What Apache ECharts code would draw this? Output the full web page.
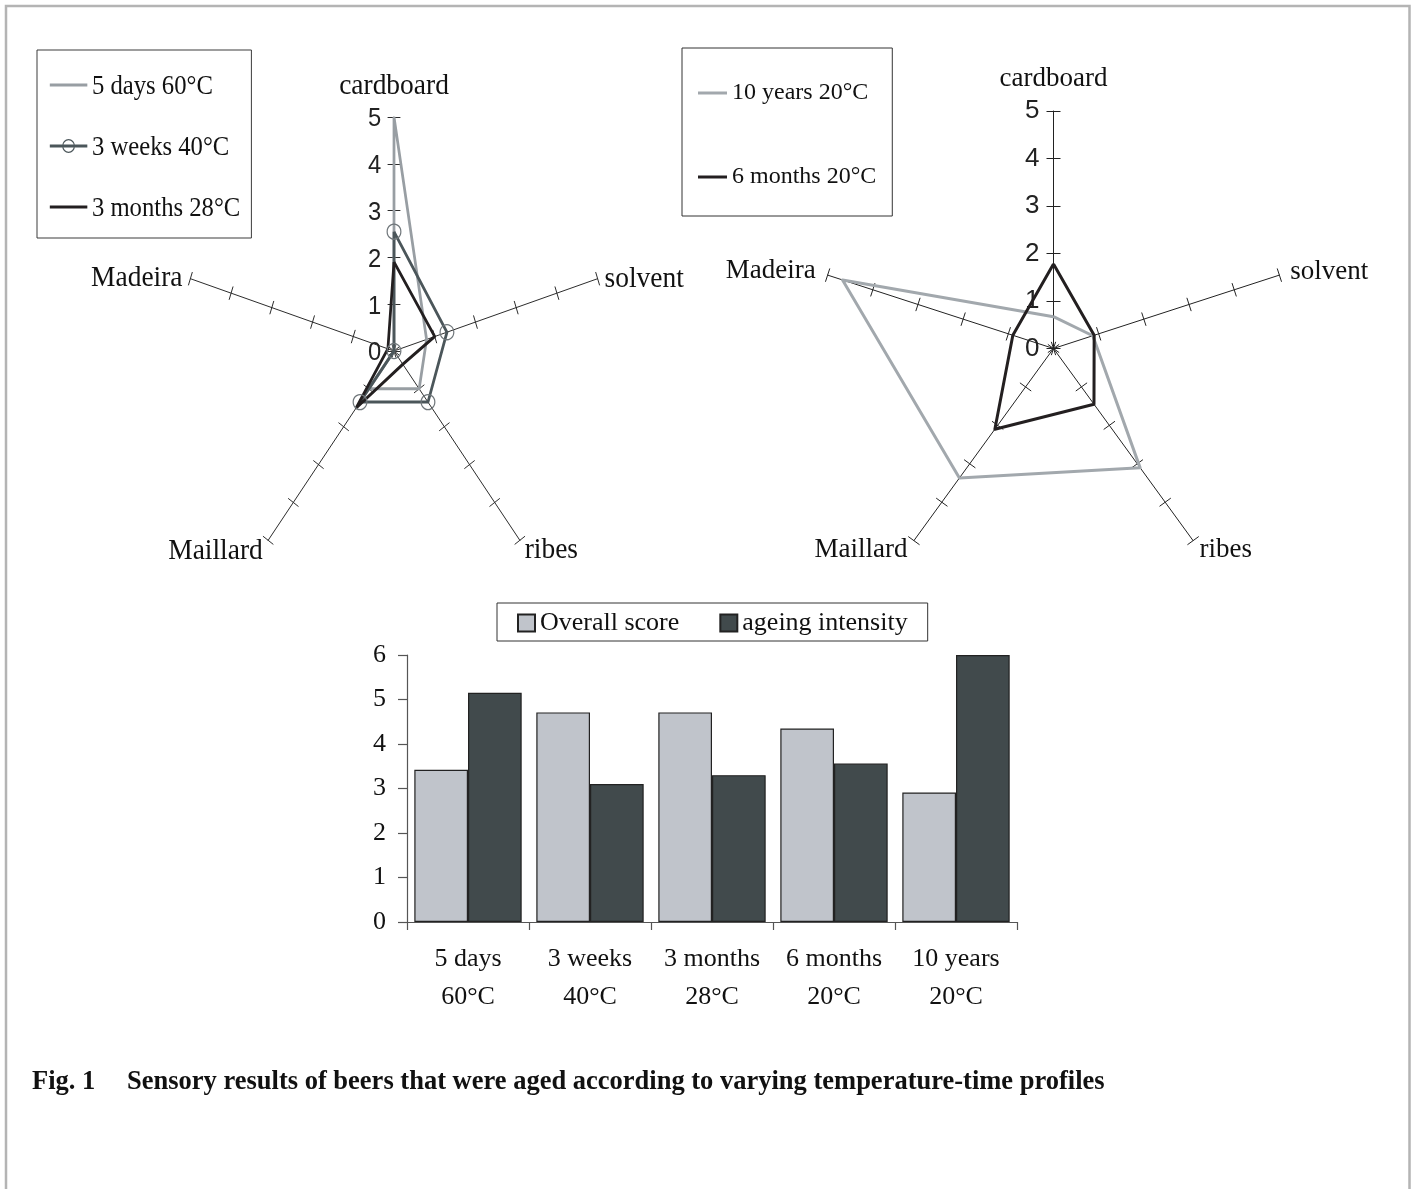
<!DOCTYPE html>
<html><head><meta charset="utf-8">
<script src="https://cdn.jsdelivr.net/npm/echarts@6/dist/echarts.min.js"></script>
<style>
html,body{margin:0;padding:0;background:#fff;width:1414px;height:1189px;overflow:hidden}
#main{position:absolute;left:0;top:0;width:1414px;height:1189px}
#left{position:absolute;left:0;top:0;width:760px;height:620px;transform:scaleX(0.915);transform-origin:0 0}
</style></head><body>
<div id="main"></div><div id="left"></div>
<script>
// ---- data (radar axes listed clockwise from the top, as in the figure) ----
const radarAxes = ['cardboard', 'solvent', 'ribes', 'Maillard', 'Madeira'];
const radarMax = 5;
const leftNames = ['5 days 60°C', '3 weeks 40°C', '3 months 28°C'];
const days5 = [5.0, 0.8, 1.0, 1.0, 0.0];
const weeks3 = [2.55, 1.3, 1.35, 1.35, 0.0];
const months3 = [1.9, 1.0, 0.35, 1.5, 0.15];
const rightNames = ['10 years 20°C', '6 months 20°C'];
const years10 = [0.67, 0.87, 3.1, 3.37, 4.67];
const months6 = [1.78, 0.9, 1.45, 2.1, 0.9];
const barCategories = ['5 days\n60°C', '3 weeks\n40°C', '3 months\n28°C', '6 months\n20°C', '10 years\n20°C'];
const barNames = ['Overall score', 'ageing intensity'];
const overallScore = [3.42, 4.71, 4.71, 4.35, 2.91];
const ageingIntensity = [5.15, 3.10, 3.30, 3.56, 6.0];
const barMax = 6;
const captionLabel = 'Fig. 1';
const captionText = 'Sensory results of beers that were aged according to varying temperature-time profiles';

// ---- helpers ----
const SERIF = "'Liberation Serif','Times New Roman',serif";
const SANS = "'Liberation Sans',Arial,sans-serif";
const order = [0, 4, 3, 2, 1]; // ECharts places indicators counter-clockwise
const reorder = a => order.map(i => a[i]);

function makeRadars(center, radius, gaps, nameSize, labelSize) {
  const base = {
    center: center, radius: radius, startAngle: 90, splitNumber: 5, shape: 'polygon',
    splitLine: { show: false }, splitArea: { show: false }
  };
  const main = Object.assign({}, base, {
    axisName: { color: '#111', fontFamily: SERIF, fontSize: nameSize },
    axisNameGap: 10,
    axisLine: { show: true, lineStyle: { color: '#222', width: 1 } },
    axisTick: { show: true, length: 7, lineStyle: { color: '#222', width: 1 } },
    axisLabel: { show: false },
    indicator: order.map(i => ({
      name: radarAxes[i], min: 0, max: radarMax, nameGap: gaps[i],
      axisLabel: i === 0 ? { show: true, color: '#222', fontFamily: SANS, fontSize: labelSize, margin: 14 } : { show: false }
    }))
  });
  const ticks = Object.assign({}, base, {
    axisName: { show: false },
    axisLine: { show: false },
    axisTick: { show: true, length: -7, lineStyle: { color: '#222', width: 1 } },
    axisLabel: { show: false },
    indicator: order.map(i => ({ name: radarAxes[i], min: 0, max: radarMax }))
  });
  return [main, ticks];
}
function radarSeries(name, values, color, extra) {
  return Object.assign({
    type: 'radar', radarIndex: 0, name: name, symbol: 'none',
    lineStyle: { color: color, width: 3 }, itemStyle: { color: color },
    silent: true, z: 3,
    data: [{ name: name, value: reorder(values) }]
  }, extra || {});
}
const lineIcon = w => 'path://M0,0H' + w + 'V3H0Z';
const circleIcon = 'path://M0,5.5H41V8.5H0Z M13.5,7A7,7 0 1,1 27.5,7A7,7 0 1,1 13.5,7Z M14.7,7A5.8,5.8 0 1,0 26.3,7A5.8,5.8 0 1,0 14.7,7Z';

// ---- left radar (separate instance, horizontally compressed like the figure) ----
const left = echarts.init(document.getElementById('left'), null, { renderer: 'svg' });
const leftColors = ['#989ea3', '#4b565a', '#231f20'];
left.setOption({
  animation: false,
  radar: makeRadars([394 / 0.915, 351], 234, [18, 8, 9, 10, 9], 30, 26),
  legend: {
    orient: 'vertical', left: 37 / 0.915, top: 50,
    padding: [21.5, 12, 17.5, 14], itemGap: 34, itemWidth: 41, itemHeight: 14,
    borderColor: '#333', borderWidth: 1, selectedMode: false,
    textStyle: { fontFamily: SERIF, fontSize: 27, lineHeight: 27, color: '#111' },
    data: [
      { name: leftNames[0], icon: lineIcon(41), itemStyle: { color: leftColors[0], borderWidth: 0 } },
      { name: leftNames[1], icon: circleIcon, itemStyle: { color: leftColors[1], borderWidth: 0 } },
      { name: leftNames[2], icon: lineIcon(41), itemStyle: { color: leftColors[2], borderWidth: 0 } }
    ]
  },
  series: [
    radarSeries(leftNames[0], days5, leftColors[0]),
    radarSeries(leftNames[1], weeks3, leftColors[1], {
      symbol: 'circle', symbolSize: 15,
      itemStyle: { color: 'rgba(255,255,255,0)', borderColor: '#6f767a', borderWidth: 1.3 }
    }),
    radarSeries(leftNames[2], months3, leftColors[2])
  ]
});

// ---- main instance: right radar, bar chart, caption, frame ----
const main = echarts.init(document.getElementById('main'));
const rightColors = ['#a2a8ad', '#231f20'];
const barColors = ['#c0c4cb', '#414a4c'];
main.setOption({
  animation: false,
  graphic: [{
    type: 'rect', silent: true, z: -10,
    shape: { x: 6, y: 6, width: 1403.5, height: 1300 },
    style: { fill: 'none', stroke: '#b4b4b4', lineWidth: 2.5 }
  }],
  title: [
    { text: captionLabel, left: 32, top: 1069, padding: 0, textStyle: { fontFamily: SERIF, fontWeight: 'bold', fontSize: 26.5, color: '#111' } },
    { text: captionText, left: 127, top: 1069, padding: 0, textStyle: { fontFamily: SERIF, fontWeight: 'bold', fontSize: 26.5, color: '#111' } }
  ],
  radar: makeRadars([1053.5, 348.5], 237.5, [19, 11.5, 11, 11, 12.5], 27, 26),
  legend: [{
    orient: 'vertical', left: 682, top: 48,
    padding: [33, 16, 27, 16], itemGap: 60, itemWidth: 29, itemHeight: 3,
    borderColor: '#333', borderWidth: 1, selectedMode: false,
    textStyle: { fontFamily: SERIF, fontSize: 24, lineHeight: 24, color: '#111' },
    data: [
      { name: rightNames[0], icon: lineIcon(29), itemStyle: { color: rightColors[0], borderWidth: 0 } },
      { name: rightNames[1], icon: lineIcon(29), itemStyle: { color: rightColors[1], borderWidth: 0 } }
    ]
  }, {
    orient: 'horizontal', left: 497, top: 603,
    padding: [7, 20, 5, 20], itemGap: 40, itemWidth: 17, itemHeight: 17,
    borderColor: '#333', borderWidth: 1, selectedMode: false, icon: 'rect',
    textStyle: { fontFamily: SERIF, fontSize: 26, lineHeight: 26, color: '#111' },
    data: barNames
  }],
  grid: { left: 407, right: 397, top: 655, bottom: 267, outerBoundsMode: 'none' },
  xAxis: {
    type: 'category', data: barCategories,
    axisLine: { show: true, lineStyle: { color: '#555', width: 1.2 } },
    axisTick: { show: true, length: 8, lineStyle: { color: '#555', width: 1.2 } },
    axisLabel: { interval: 0, fontFamily: SERIF, fontSize: 26, color: '#111', lineHeight: 38, margin: 18 }
  },
  yAxis: {
    type: 'value', min: 0, max: barMax, interval: 1,
    axisLine: { show: true, lineStyle: { color: '#555', width: 1.2 } },
    axisTick: { show: true, length: 9, lineStyle: { color: '#555', width: 1.2 } },
    splitLine: { show: false },
    axisLabel: { fontFamily: SERIF, fontSize: 26, color: '#111', margin: 21 }
  },
  series: [
    radarSeries(rightNames[0], years10, rightColors[0]),
    radarSeries(rightNames[1], months6, rightColors[1]),
    {
      type: 'bar', name: barNames[0], data: overallScore, barGap: '0%', barCategoryGap: '12%',
      itemStyle: { color: barColors[0], borderColor: '#222', borderWidth: 1.2 }, silent: true
    },
    {
      type: 'bar', name: barNames[1], data: ageingIntensity, barGap: '0%', barCategoryGap: '12%',
      itemStyle: { color: barColors[1], borderColor: '#222', borderWidth: 1.2 }, silent: true
    }
  ]
});
</script>
</body></html>
